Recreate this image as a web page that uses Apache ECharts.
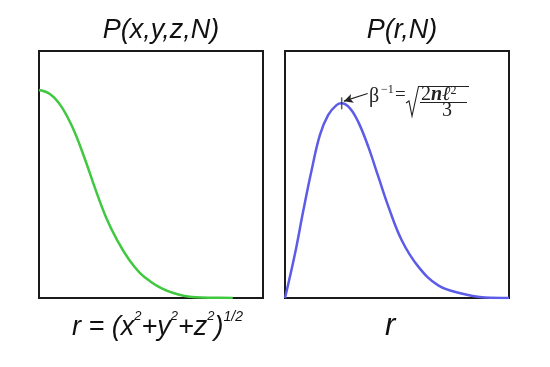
<!DOCTYPE html>
<html>
<head>
<meta charset="utf-8">
<script src="https://cdn.jsdelivr.net/npm/echarts@6/dist/echarts.min.js"></script>
<style>html,body{margin:0;padding:0;background:#fff;}#c{width:550px;height:367px;}</style>
</head>
<body>
<div id="c"></div>
<script>
// Left panel: P(x,y,z,N) (Gaussian-like decay)
var gaussX = [0, 0.5, 1.0, 1.5, 2.0, 2.5, 3.0, 3.5, 4.0, 4.5, 5.0, 5.5, 6.0, 6.5, 7.0, 7.8, 8.65];
var gaussY = [0.842, 0.825, 0.775, 0.69, 0.575, 0.445, 0.325, 0.232, 0.158, 0.102, 0.065, 0.038, 0.02, 0.008, 0.003, 0.001, 0.0];
// Right panel: P(r,N)
var maxX = [0, 0.45, 0.82, 1.19, 1.56, 1.93, 2.30, 2.53, 2.90, 3.27, 3.72, 4.17, 4.62, 5.21, 5.96, 6.84, 7.88, 8.93, 10];
var maxY = [0, 0.181, 0.355, 0.518, 0.660, 0.741, 0.781, 0.788, 0.768, 0.713, 0.612, 0.490, 0.369, 0.234, 0.126, 0.051, 0.018, 0.002, 0];
var peak = [2.53, 0.788];
var arrowFrom = [3.69, 0.828];
var arrowTo = [2.63, 0.797];
var titles = ['P(x,y,z,N)', 'P(r,N)'];

function pairs(xs, ys) { return xs.map(function (x, i) { return [x, ys[i]]; }); }

var chart = echarts.init(document.getElementById('c'), null, {renderer: 'canvas'});
var gridCommon = {show: true, borderColor: '#1a1a1a', borderWidth: 2, backgroundColor: '#fff'};
var axisCommon = {type: 'value', show: false, splitLine: {show: false}};
var sans = '"Liberation Sans", Arial, sans-serif';
var serif = '"Liberation Serif", "Times New Roman", serif';
function st(size, opts) {
  return Object.assign({fontSize: size, fontFamily: serif, fill: '#222'}, opts || {});
}

chart.setOption({
  animation: false,
  backgroundColor: '#fff',
  title: [
    {text: titles[0], left: 156, top: 12, textAlign: 'center',
     textStyle: {fontFamily: sans, fontStyle: 'italic', fontWeight: 'normal', fontSize: 27, color: '#111'}},
    {text: titles[1], left: 397, top: 12, textAlign: 'center',
     textStyle: {fontFamily: sans, fontStyle: 'italic', fontWeight: 'normal', fontSize: 27, color: '#111'}}
  ],
  grid: [
    Object.assign({left: 39, top: 51, width: 224, height: 247}, gridCommon),
    Object.assign({left: 285, top: 51, width: 224, height: 247}, gridCommon)
  ],
  xAxis: [
    Object.assign({gridIndex: 0, min: 0, max: 10}, axisCommon),
    Object.assign({gridIndex: 1, min: 0, max: 10}, axisCommon)
  ],
  yAxis: [
    Object.assign({gridIndex: 0, min: 0, max: 1}, axisCommon),
    Object.assign({gridIndex: 1, min: 0, max: 1}, axisCommon)
  ],
  series: [
    {type: 'line', xAxisIndex: 0, yAxisIndex: 0, data: pairs(gaussX, gaussY),
     smooth: 0.4, showSymbol: false, lineStyle: {color: '#40c840', width: 2.5}, z: 3},
    {type: 'line', xAxisIndex: 1, yAxisIndex: 1, data: pairs(maxX, maxY),
     smooth: 0.4, showSymbol: false, lineStyle: {color: '#5c5ce8', width: 2.5}, z: 3,
     markLine: {silent: true, symbol: ['none', 'arrow'], symbolSize: [7, 9], label: {show: false},
       lineStyle: {color: '#222', width: 1.2, type: 'solid'},
       data: [[{coord: arrowFrom}, {coord: arrowTo}]]}},
    {type: 'scatter', xAxisIndex: 1, yAxisIndex: 1, data: [peak], symbol: 'rect',
     symbolSize: [1.5, 12], itemStyle: {color: '#333'}, z: 5, silent: true}
  ],
  graphic: [
    // formula beta^-1 = sqrt(2 n l^2 / 3)
    {type: 'text', left: 369, top: 87, style: st(20, {text: 'β'})},
    {type: 'text', left: 381, top: 84, style: st(12, {text: '−1'})},
    {type: 'text', left: 395, top: 86, style: st(19, {text: '='})},
    {type: 'polyline', shape: {points: [[406, 103], [409, 101], [412, 116], [418.5, 86.5], [469, 86.5]]},
     style: {stroke: '#222', lineWidth: 1.1, fill: null}},
    {type: 'text', left: 421, top: 85, style: {text: '{a|2}{b|n}{c|ℓ}{d|2}', fill: '#222',
      rich: {a: {fontSize: 20, fontFamily: serif, lineHeight: 20, verticalAlign: 'bottom'},
             b: {fontSize: 20, fontFamily: serif, fontStyle: 'italic', fontWeight: 'bold', lineHeight: 20, verticalAlign: 'bottom'},
             c: {fontSize: 20, fontFamily: serif, fontStyle: 'italic', lineHeight: 20, verticalAlign: 'bottom'},
             d: {fontSize: 12, fontFamily: serif, lineHeight: 13, verticalAlign: 'top'}}}},
    {type: 'line', shape: {x1: 420, y1: 102.5, x2: 467, y2: 102.5}, style: {stroke: '#222', lineWidth: 1}},
    {type: 'text', left: 442, top: 101, style: st(20, {text: '3'})},
    // axis labels
    {type: 'text', left: 72, top: 310, style: {
      text: '{m|r = (x}{s|2}{m|+y}{s|2}{m|+z}{s|2}{m|)}{t|1/2}', fill: '#111',
      rich: {m: {fontSize: 27, fontFamily: sans, fontStyle: 'italic', lineHeight: 31, verticalAlign: 'bottom'},
             s: {fontSize: 13, fontFamily: sans, fontStyle: 'italic', lineHeight: 22, verticalAlign: 'top'},
             t: {fontSize: 14, fontFamily: sans, fontStyle: 'italic', lineHeight: 19, verticalAlign: 'top'}}}},
    {type: 'text', left: 385, top: 311, style: {text: 'r', fontSize: 31, fontFamily: sans, fontStyle: 'italic', fill: '#111'}}
  ]
});
</script>
</body>
</html>
